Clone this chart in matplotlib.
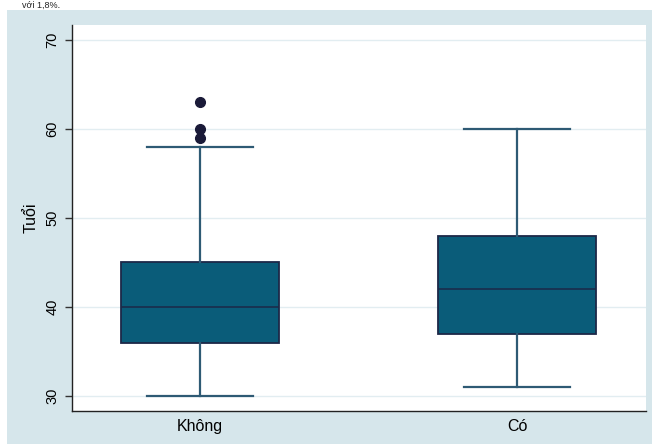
import matplotlib.pyplot as plt

plt.rcParams["font.family"] = ["Liberation Sans", "DejaVu Sans"]

groups = ["Không", "Có"]
whislo = [30, 31]
q1 = [36, 37]
med = [40, 42]
q3 = [45, 48]
whishi = [58, 60]
outliers = [[59, 60, 63], []]

W, H = 652, 445
fig = plt.figure(figsize=(W / 100, H / 100), dpi=100, facecolor="white")
bg = "#d6e6eb"
# outer panel behind the plot region
bgax = fig.add_axes([7 / W, 1 / H, 1 - 7 / W, (444 - 10) / H], zorder=0)
bgax.set_facecolor(bg)
bgax.set_xticks([])
bgax.set_yticks([])
for s in bgax.spines.values():
    s.set_visible(False)

fig.text(22 / W, 1 - 5 / H, "với 1,8%.", fontsize=6.5, va="center",
         ha="left", color="#222222")

ax = fig.add_axes([72 / W, 1 - 411 / H, (646 - 72) / W, (411 - 25) / H],
                  zorder=1)
ax.set_facecolor("white")

stats = []
for i, g in enumerate(groups):
    stats.append(dict(label=g, whislo=whislo[i], q1=q1[i], med=med[i],
                      q3=q3[i], whishi=whishi[i], fliers=outliers[i]))

fill = "#0a5c79"
edge = "#1c2848"
wcol = "#2e5a74"
ax.bxp(stats, positions=[1, 2], widths=0.5, patch_artist=True,
       boxprops=dict(facecolor=fill, edgecolor=edge, linewidth=1.3),
       medianprops=dict(color=edge, linewidth=1.1),
       whiskerprops=dict(color=wcol, linewidth=1.6),
       capprops=dict(color=wcol, linewidth=1.6),
       capwidths=0.335,
       flierprops=dict(marker="o", markerfacecolor="#1a1a38",
                       markeredgecolor="#1a1a38", markersize=7))

ax.set_xlim(0.596, 2.407)
ax.set_ylim(28.3, 71.7)
ax.set_yticks([30, 40, 50, 60, 70])
ax.grid(axis="y", color="#e2edf1", linewidth=1.0)
ax.set_axisbelow(True)
for s in ["top", "right"]:
    ax.spines[s].set_visible(False)
for s in ["left", "bottom"]:
    ax.spines[s].set_color("#222222")
    ax.spines[s].set_linewidth(1.0)
ax.tick_params(axis="y", length=5, width=1, color="#333333", labelsize=10.5,
               labelrotation=90, pad=4)
for lbl in ax.get_yticklabels():
    lbl.set_va("center")
ax.tick_params(axis="x", length=0, labelsize=11.5, pad=6)
ax.set_ylabel("Tuổi", fontsize=11.5, labelpad=5)

fig.savefig("out.png", dpi=100, facecolor="white")
